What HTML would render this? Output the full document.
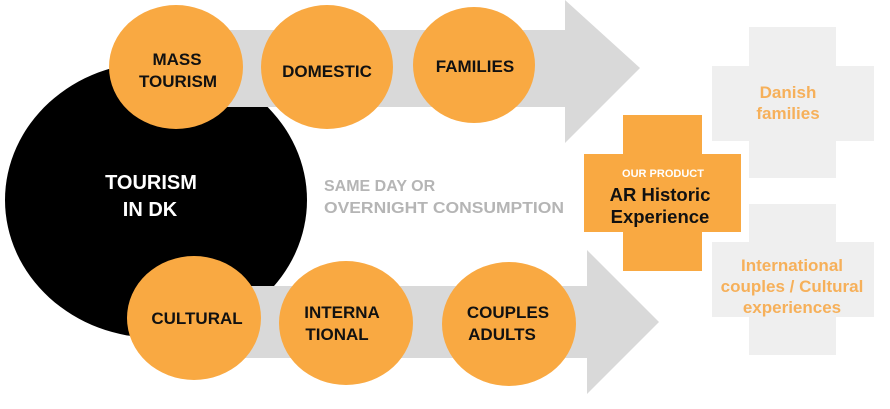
<!DOCTYPE html>
<html><head><meta charset="utf-8"><style>
html,body{margin:0;padding:0;background:#fff;}
svg{display:block;}
text{font-family:"Liberation Sans",Arial,sans-serif;font-weight:bold;}
</style></head><body>
<svg width="890" height="409" viewBox="0 0 890 409" xmlns="http://www.w3.org/2000/svg">
<ellipse cx="156" cy="200" rx="151" ry="138" fill="#000"/>
<polygon points="176,30 565,30 565,0 640,68 565,143 565,107 176,107" fill="#d9d9d9"/>
<polygon points="194,286 587,286 587,250 659,322 587,394 587,358 194,358" fill="#d9d9d9"/>
<g fill="#f9a942">
<ellipse cx="176" cy="67" rx="67" ry="62"/>
<ellipse cx="327" cy="67" rx="66" ry="62"/>
<ellipse cx="474" cy="65" rx="61" ry="58"/>
<ellipse cx="194" cy="318" rx="67" ry="62"/>
<ellipse cx="346" cy="323" rx="67" ry="62"/>
<ellipse cx="509" cy="324" rx="67" ry="62"/>
</g>
<g font-size="17" fill="#111" text-anchor="middle">
<text x="177" y="65">MASS</text><text x="178" y="87">TOURISM</text>
<text x="327" y="77">DOMESTIC</text>
<text x="475" y="72">FAMILIES</text>
<text x="197" y="324">CULTURAL</text>
<text x="342" y="318">INTERNA</text><text x="337" y="340">TIONAL</text>
<text x="508" y="318">COUPLES</text><text x="502" y="340">ADULTS</text>
</g>
<g font-size="20" fill="#fff" text-anchor="middle">
<text x="151" y="189">TOURISM</text><text x="150" y="216">IN DK</text>
</g>
<g font-size="16" fill="#b5b5b5" textLength="240">
<text x="324" y="191">SAME DAY OR</text><text x="324" y="213" textLength="240" lengthAdjust="spacingAndGlyphs">OVERNIGHT CONSUMPTION</text>
</g>
<path d="M623,115H702V154H741V232H702V271H623V232H584V154H623Z" fill="#f9a942"/>
<text x="663" y="177" font-size="11" fill="#fff" text-anchor="middle">OUR PRODUCT</text>
<text x="660" y="201" font-size="18.5" fill="#111" text-anchor="middle">AR Historic</text>
<text x="660" y="223" font-size="18.5" fill="#111" text-anchor="middle">Experience</text>
<path d="M749,27H836V66H874V141H836V178H749V141H712V66H749Z" fill="#efefef"/>
<path d="M749,204H836V242H874V317H836V355H749V317H712V242H749Z" fill="#efefef"/>
<g font-size="17" fill="#f6b05a" text-anchor="middle">
<text x="788" y="98">Danish</text><text x="788" y="119">families</text>
<text x="792" y="271">International</text><text x="792" y="292">couples / Cultural</text><text x="792" y="313">experiences</text>
</g>
</svg>
</body></html>
